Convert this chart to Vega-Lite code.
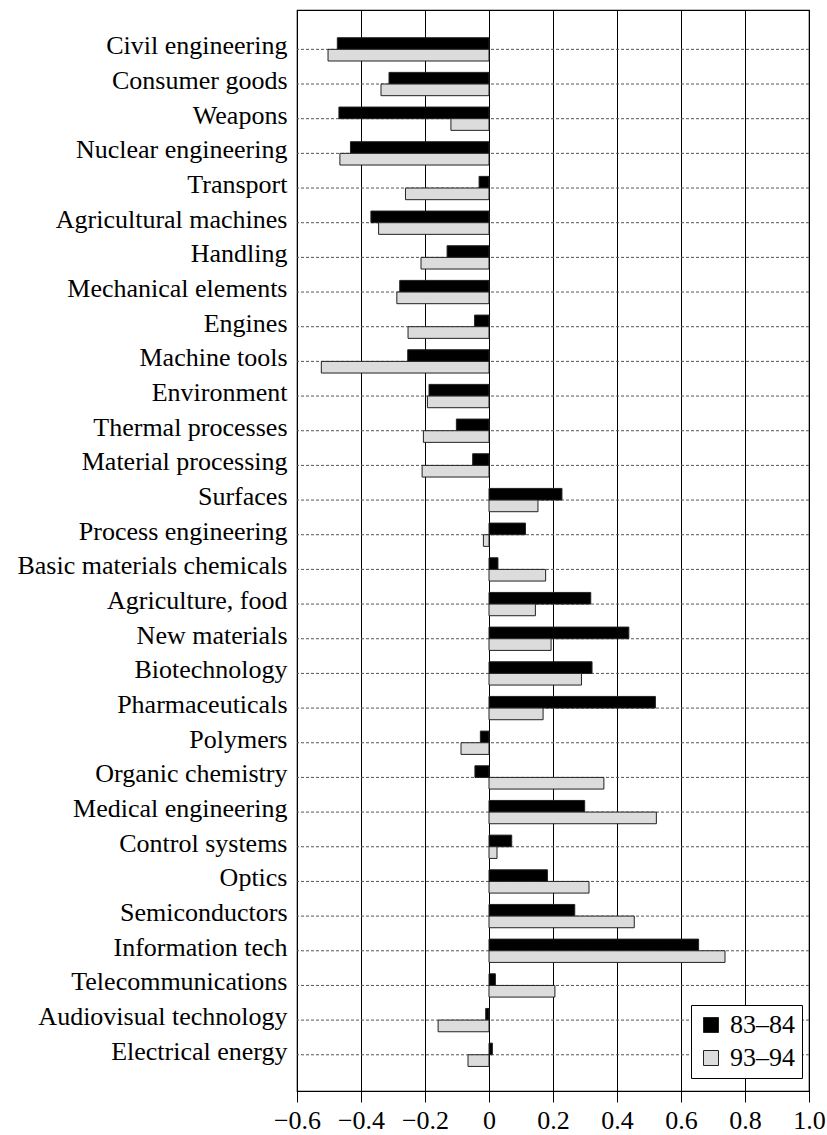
{
  "$schema": "https://vega.github.io/schema/vega-lite/v6.json",
  "autosize": {"type": "none"},
  "padding": {"left": 297, "top": 10, "right": 18, "bottom": 44},
  "width": 512,
  "height": 1081,
  "background": "white",
  "config": {
    "view": {"stroke": "black", "strokeWidth": 1.2},
    "font": "Liberation Serif"
  },
  "datasets": {
    "cats": [
      {"category": "Civil engineering"}, {"category": "Consumer goods"}, {"category": "Weapons"},
      {"category": "Nuclear engineering"}, {"category": "Transport"}, {"category": "Agricultural machines"},
      {"category": "Handling"}, {"category": "Mechanical elements"}, {"category": "Engines"},
      {"category": "Machine tools"}, {"category": "Environment"}, {"category": "Thermal processes"},
      {"category": "Material processing"}, {"category": "Surfaces"}, {"category": "Process engineering"},
      {"category": "Basic materials chemicals"}, {"category": "Agriculture, food"}, {"category": "New materials"},
      {"category": "Biotechnology"}, {"category": "Pharmaceuticals"}, {"category": "Polymers"},
      {"category": "Organic chemistry"}, {"category": "Medical engineering"}, {"category": "Control systems"},
      {"category": "Optics"}, {"category": "Semiconductors"}, {"category": "Information tech"},
      {"category": "Telecommunications"}, {"category": "Audiovisual technology"}, {"category": "Electrical energy"}
    ],
    "bars": [
      {"category": "Civil engineering", "period": "83–84", "value": -0.474},
      {"category": "Civil engineering", "period": "93–94", "value": -0.503},
      {"category": "Consumer goods", "period": "83–84", "value": -0.3125},
      {"category": "Consumer goods", "period": "93–94", "value": -0.3375},
      {"category": "Weapons", "period": "83–84", "value": -0.469},
      {"category": "Weapons", "period": "93–94", "value": -0.119},
      {"category": "Nuclear engineering", "period": "83–84", "value": -0.433},
      {"category": "Nuclear engineering", "period": "93–94", "value": -0.466},
      {"category": "Transport", "period": "83–84", "value": -0.031},
      {"category": "Transport", "period": "93–94", "value": -0.261},
      {"category": "Agricultural machines", "period": "83–84", "value": -0.369},
      {"category": "Agricultural machines", "period": "93–94", "value": -0.345},
      {"category": "Handling", "period": "83–84", "value": -0.131},
      {"category": "Handling", "period": "93–94", "value": -0.2125},
      {"category": "Mechanical elements", "period": "83–84", "value": -0.279},
      {"category": "Mechanical elements", "period": "93–94", "value": -0.288},
      {"category": "Engines", "period": "83–84", "value": -0.045},
      {"category": "Engines", "period": "93–94", "value": -0.253},
      {"category": "Machine tools", "period": "83–84", "value": -0.254},
      {"category": "Machine tools", "period": "93–94", "value": -0.524},
      {"category": "Environment", "period": "83–84", "value": -0.1875},
      {"category": "Environment", "period": "93–94", "value": -0.1925},
      {"category": "Thermal processes", "period": "83–84", "value": -0.102},
      {"category": "Thermal processes", "period": "93–94", "value": -0.205},
      {"category": "Material processing", "period": "83–84", "value": -0.051},
      {"category": "Material processing", "period": "93–94", "value": -0.209},
      {"category": "Surfaces", "period": "83–84", "value": 0.228},
      {"category": "Surfaces", "period": "93–94", "value": 0.153},
      {"category": "Process engineering", "period": "83–84", "value": 0.114},
      {"category": "Process engineering", "period": "93–94", "value": -0.0175},
      {"category": "Basic materials chemicals", "period": "83–84", "value": 0.028},
      {"category": "Basic materials chemicals", "period": "93–94", "value": 0.177},
      {"category": "Agriculture, food", "period": "83–84", "value": 0.318},
      {"category": "Agriculture, food", "period": "93–94", "value": 0.145},
      {"category": "New materials", "period": "83–84", "value": 0.437},
      {"category": "New materials", "period": "93–94", "value": 0.194},
      {"category": "Biotechnology", "period": "83–84", "value": 0.322},
      {"category": "Biotechnology", "period": "93–94", "value": 0.289},
      {"category": "Pharmaceuticals", "period": "83–84", "value": 0.52},
      {"category": "Pharmaceuticals", "period": "93–94", "value": 0.169},
      {"category": "Polymers", "period": "83–84", "value": -0.027},
      {"category": "Polymers", "period": "93–94", "value": -0.0875},
      {"category": "Organic chemistry", "period": "83–84", "value": -0.044},
      {"category": "Organic chemistry", "period": "93–94", "value": 0.359},
      {"category": "Medical engineering", "period": "83–84", "value": 0.299},
      {"category": "Medical engineering", "period": "93–94", "value": 0.523},
      {"category": "Control systems", "period": "83–84", "value": 0.071},
      {"category": "Control systems", "period": "93–94", "value": 0.025},
      {"category": "Optics", "period": "83–84", "value": 0.1825},
      {"category": "Optics", "period": "93–94", "value": 0.3125},
      {"category": "Semiconductors", "period": "83–84", "value": 0.268},
      {"category": "Semiconductors", "period": "93–94", "value": 0.454},
      {"category": "Information tech", "period": "83–84", "value": 0.655},
      {"category": "Information tech", "period": "93–94", "value": 0.7375},
      {"category": "Telecommunications", "period": "83–84", "value": 0.02},
      {"category": "Telecommunications", "period": "93–94", "value": 0.206},
      {"category": "Audiovisual technology", "period": "83–84", "value": -0.0103},
      {"category": "Audiovisual technology", "period": "93–94", "value": -0.159},
      {"category": "Electrical energy", "period": "83–84", "value": 0.0106},
      {"category": "Electrical energy", "period": "93–94", "value": -0.0656}
    ]
  },
  "layer": [
    {
      "data": {"name": "cats"},
      "mark": {"type": "rule", "strokeDash": [3, 2], "color": "#555555", "strokeWidth": 1},
      "encoding": {
        "y": {"field": "category", "type": "nominal", "sort": null}
      }
    },
    {
      "data": {"name": "bars"},
      "mark": {"type": "bar", "stroke": "#222222", "strokeWidth": 1},
      "encoding": {
        "y": {
          "field": "category", "type": "nominal", "sort": null, "title": null,
          "scale": {"paddingInner": 0.328, "paddingOuter": 0.754, "align": 0.53},
          "axis": {
            "domain": false, "ticks": false, "labelPadding": 10, "labelFontSize": 26, "labelOffset": -3,
            "labelFont": "Liberation Serif", "labelColor": "black", "labelLimit": 0, "grid": false
          }
        },
        "yOffset": {"field": "period", "type": "nominal", "sort": ["83–84", "93–94"]},
        "x": {
          "field": "value", "type": "quantitative", "title": null,
          "scale": {"domain": [-0.6, 1.0], "nice": false, "zero": false},
          "axis": {
            "values": [-0.6, -0.4, -0.2, 0, 0.2, 0.4, 0.6, 0.8, 1.0],
            "labelExpr": "datum.value == 0 ? '0' : replace(format(datum.value, '.1f'), '-', '–')",
            "domain": false, "grid": true, "gridColor": "black", "gridWidth": 1, "gridOpacity": 1,
            "ticks": true, "tickSize": 11, "tickColor": "black", "tickWidth": 1,
            "labelPadding": 5, "labelFontSize": 26, "labelFont": "Liberation Serif", "labelColor": "black",
            "labelFlush": false, "labelOverlap": false
          }
        },
        "fill": {
          "field": "period", "type": "nominal",
          "scale": {"domain": ["83–84", "93–94"], "range": ["#000000", "#dcdcdc"]},
          "legend": {
            "title": null, "orient": "none", "legendX": 394, "legendY": 995,
            "padding": 7, "strokeColor": "black", "fillColor": "white",
            "symbolType": "square", "symbolSize": 225, "symbolStrokeColor": "#222222", "symbolStrokeWidth": 1,
            "labelFontSize": 26, "labelFont": "Liberation Serif", "labelColor": "black",
            "labelOffset": 6, "rowPadding": 7
          }
        }
      }
    }
  ]
}
